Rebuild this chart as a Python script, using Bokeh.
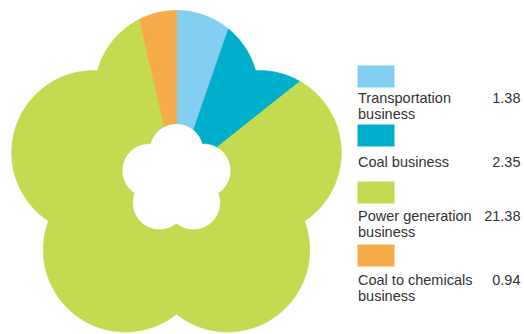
import numpy as np
from bokeh.plotting import figure
from bokeh.models import Range1d
from bokeh.core.properties import value
from bokeh.embed import file_html
from bokeh.resources import INLINE

# ---- data ----
categories = ["Transportation\nbusiness", "Coal business", "Power generation\nbusiness", "Coal to chemicals\nbusiness"]
values = [1.38, 2.35, 21.38, 0.94]
value_labels = ["1.38", "2.35", "21.38", "0.94"]
colors = ["#82CFF2", "#00AFCB", "#C4DA50", "#F5AB4A"]

# ---- layout (pixel units, y downwards) ----
W, H = 524, 334
CX, CY = 176.0, 179.0
D, RHO = 87.0, 82.0      # petal centre distance / petal radius
INNER = 0.33             # hole = scaled flower

p = figure(width=W, height=H, x_range=Range1d(0, W), y_range=Range1d(H, 0),
           output_backend="svg", toolbar_location=None, min_border=0)
p.axis.visible = False
p.grid.visible = False
p.outline_line_color = None
p.background_fill_color = "white"
p.border_fill_color = "white"

petals = np.radians(np.arange(5) * 72.0)

def flower_r(a, scale=1.0):
    a = np.atleast_1d(a)
    best = np.zeros_like(a)
    for ph in petals:
        dl = a - ph
        disc = RHO**2 - (D * np.sin(dl))**2
        t = np.where(disc >= 0, D * np.cos(dl) + np.sqrt(np.clip(disc, 0, None)), 0)
        best = np.maximum(best, t)
    return best * scale

vals = np.array(values)
cum = np.concatenate([[0], np.cumsum(vals)]) / vals.sum() * 2 * np.pi
xs, ys = [], []
for i in range(len(vals)):
    a = np.linspace(cum[i], cum[i + 1], max(int((cum[i + 1] - cum[i]) * 180), 4))
    ro = flower_r(a)
    ri = flower_r(a[::-1], INNER)
    x = np.concatenate([CX + ro * np.sin(a), CX + ri * np.sin(a[::-1])])
    y = np.concatenate([CY - ro * np.cos(a), CY - ri * np.cos(a[::-1])])
    xs.append(list(x)); ys.append(list(y))

p.patches(xs=xs, ys=ys, fill_color=colors, line_color=colors, line_width=0.8)

# ---- legend ----
sw_top = [65, 124, 181, 244]
baselines = [97, 161, 215, 279]
p.quad(left=357, right=394, top=sw_top, bottom=[t + 22 for t in sw_top],
       fill_color=colors, line_color=None)

tx, ty, tt = [], [], []
for lab, b in zip(categories, baselines):
    for j, line in enumerate(lab.split("\n")):
        tx.append(357.5); ty.append(b + 16 * j); tt.append(line)
p.text(x=tx, y=ty, text=tt, text_font=value("Liberation Sans"), text_font_size="14.5px",
       text_color="#333333", text_baseline="alphabetic", text_align="left")
p.text(x=[520] * 4, y=baselines, text=value_labels, text_font=value("Liberation Sans"),
       text_font_size="14.5px", text_color="#333333", text_baseline="alphabetic", text_align="right")

open("out.html", "w").write(file_html(p, INLINE))
